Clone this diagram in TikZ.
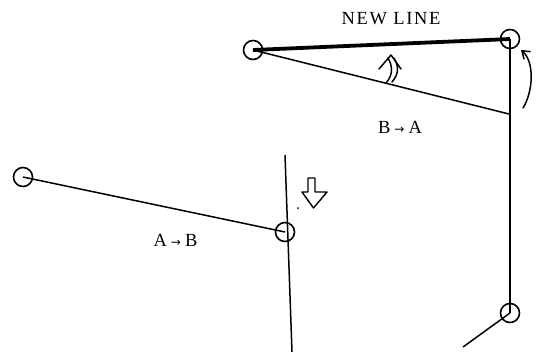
\documentclass[tikz,border=0pt]{standalone}
\usepackage{fontspec}
\setmainfont{Liberation Serif}
\newfontfamily\arrfont{DejaVu Sans}
\newfontfamily\spacedfont[LetterSpace=9]{Liberation Serif}
\usetikzlibrary{arrows.meta}
\newcommand{\rarr}{\hspace{4pt}{\arrfont\fontsize{12}{12}\selectfont →}\hspace{4pt}}
\begin{document}
\begin{tikzpicture}[x=1pt,y=-1pt,
  joint/.style={circle,draw,line width=1.6pt,minimum size=19pt,inner sep=0pt},
  link/.style={line width=1.5pt},
  newlink/.style={line width=3.8pt},
  lbl/.style={font=\fontsize{18.5}{21}\selectfont,inner sep=0pt},
  sketch/.style={line width=1.5pt,line cap=round,line join=round}]
\useasboundingbox (0,0) rectangle (538,354);
% joints
\node[joint] (p1) at (253,50) {};
\node[joint] (p2) at (510,39) {};
\node[joint] (p3) at (510,313) {};
\node[joint] (p4) at (23,177) {};
\node[joint] (p5) at (285,232) {};
\coordinate (j) at (509,114);
\coordinate (mtop) at (285,155);
\coordinate (mbot) at (292,352);
\coordinate (tail) at (463,347);
% links
\draw[newlink] (p1.center) -- (p2.center);
\draw[link] (p1.center) -- (j);
\draw[link] (p2.center) -- (p3.center);
\draw[link] (p3.center) -- (tail);
\draw[link] (p4.center) -- (p5.center);
\draw[link] (mtop) -- (mbot);
% labels
\node[lbl,font=\spacedfont\fontsize{18.5}{21}\selectfont] (nl) at (391,19) {NEW LINE};
\node[lbl] (ba) at (400,127) {B\rarr A};
\node[lbl] (ab) at (175.5,240.5) {A\rarr B};
% hollow down arrow
\draw[sketch,line width=1.4pt] (308,178) -- (308,192) -- (302,192) -- (313.5,208) -- (327,192) -- (315,192) -- (315,178) -- cycle;
\fill (298,208) circle (1pt);
% hand-drawn double up arrow
\draw[sketch] (386,83) .. controls (394,74) and (392,65) .. (388,58);
\draw[sketch] (392,82) .. controls (400,73) and (398,65) .. (394,58);
\draw[sketch] (379,69) -- (391,55) -- (401,69);
% rotation arrow
\draw[sketch,-{Straight Barb[length=7pt,width=10pt]}] (523,108) .. controls (533,92) and (535,62) .. (521,50);
\end{tikzpicture}
\end{document}
